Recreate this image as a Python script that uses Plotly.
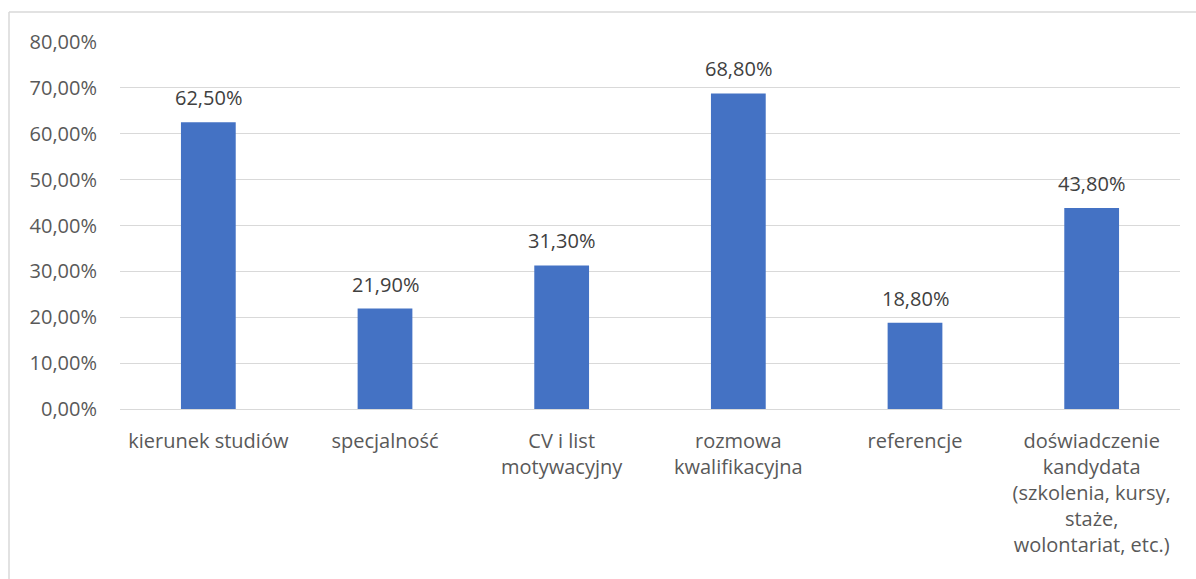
import plotly.graph_objects as go

categories = [
    "kierunek studiów",
    "specjalność",
    "CV i list<br>motywacyjny",
    "rozmowa<br>kwalifikacyjna",
    "referencje",
    "doświadczenie<br>kandydata<br>(szkolenia, kursy,<br>staże,<br>wolontariat, etc.)",
]
values = [0.625, 0.219, 0.313, 0.688, 0.188, 0.438]
y_ticks = [0, 0.1, 0.2, 0.3, 0.4, 0.5, 0.6, 0.7, 0.8]

W, H = 1196, 579
ml, mr, mt, mb = 120, 16, 42, 170
pw, ph = W - ml - mr, H - mt - mb

FONT = "Open Sans"
FS = 20

xs = list(range(len(categories)))

fig = go.Figure(
    go.Bar(
        x=xs,
        y=values,
        marker=dict(color="#4472C4", line=dict(width=0)),
        width=0.31,
        hoverinfo="skip",
    )
)

annotations = [
    dict(
        x=x, y=v, xref="x", yref="y",
        text=f"{v * 100:.2f}%".replace(".", ","),
        showarrow=False, yanchor="bottom", yshift=9,
        font=dict(family=FONT, size=FS, color="#404040"),
    )
    for x, v in zip(xs, values)
]

border_color = "#D9D9D9"
x_left = (9 - ml) / pw
y_top = 1 + (mt - 12) / ph
y_bot = -(mb + 5) / ph
x_right = 1 + (mr + 5) / pw

fig.update_layout(
    width=W,
    height=H,
    margin=dict(l=ml, r=mr, t=mt, b=mb, pad=0),
    plot_bgcolor="white",
    paper_bgcolor="white",
    separators=", ",
    showlegend=False,
    font=dict(family=FONT, size=FS, color="#595959"),
    annotations=annotations,
    xaxis=dict(
        tickmode="array",
        tickvals=xs,
        ticktext=categories,
        range=[-0.5, len(categories) - 0.5],
        showgrid=False,
        showline=False,
        zeroline=False,
        ticks="",
        ticklabelstandoff=18,
        tickfont=dict(family=FONT, size=FS, color="#595959"),
        automargin=False,
    ),
    yaxis=dict(
        range=[0, 0.8],
        tickvals=y_ticks,
        tickformat=".2%",
        showgrid=True,
        gridcolor="#D9D9D9",
        gridwidth=1,
        zeroline=True,
        zerolinecolor="#D9D9D9",
        zerolinewidth=1,
        showline=False,
        ticks="",
        ticklabelstandoff=22,
        tickfont=dict(family=FONT, size=FS, color="#595959"),
        automargin=False,
    ),
    shapes=[
        dict(type="line", xref="paper", yref="paper", x0=x_left, x1=x_left,
             y0=y_bot, y1=y_top, line=dict(color=border_color, width=1.5)),
        dict(type="line", xref="paper", yref="paper", x0=x_left, x1=x_right,
             y0=y_top, y1=y_top, line=dict(color=border_color, width=1.5)),
    ],
)

fig.write_html(
    "out.html",
    config={"displayModeBar": False},
    post_script="document.body.style.margin='0';document.body.style.overflow='hidden';",
)
